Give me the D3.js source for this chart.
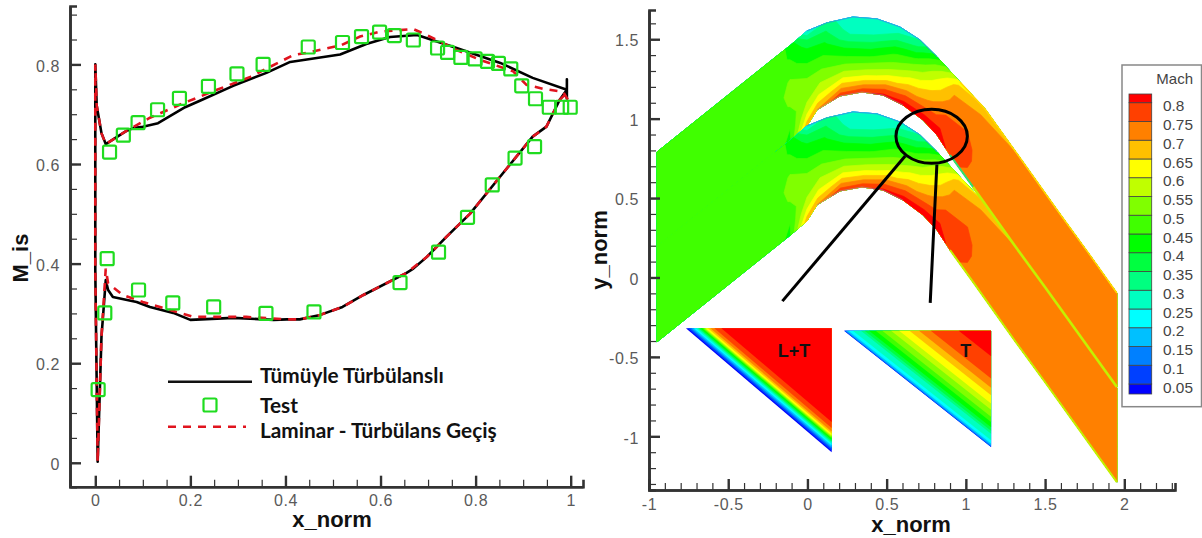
<!DOCTYPE html>
<html>
<head>
<meta charset="utf-8">
<script src="https://cdn.jsdelivr.net/npm/d3@7"></script>
<style>
  html, body { margin: 0; padding: 0; background: #fff; }
  svg { display: block; font-family: "Liberation Sans", Arial, sans-serif; }
  .tick text { fill: #5a5a5a; font-size: 16px; letter-spacing: .6px; }
  .axis path, .axis line { stroke: #333; }
  .title { font-weight: bold; font-size: 22px; fill: #111; text-anchor: middle; }
  .leg { font-family: Lato, sans-serif; font-weight: bold; font-size: 20.8px; fill: #111; }
</style>
</head>
<body>
<div id="target"></div>
<script>
// left plot: isentropic Mach along the blade
const turbX = [.992,.992,.992,.92,.852,.76,.677,.62,.57,.515,.41,.36,.29,.22,.189,.132,.1,.08,.063,.022,.013,.003,0,0,.005,.013,.022,.027,.037,.087,.115,.164,.2,.29,.375,.403,.43,.473,.52,.564,.654,.669,.697,.739,.788,.851,.92,.949,.977,.992];
const turbM = [.73,.77,.749,.773,.803,.833,.859,.855,.841,.82,.805,.783,.757,.727,.714,.682,.675,.672,.665,.64,.662,.717,.8,.387,.002,.253,.367,.347,.333,.323,.313,.301,.287,.291,.287,.288,.288,.297,.313,.337,.381,.39,.413,.454,.5,.574,.655,.675,.729,.749];
const lamX = [.994,.984,.942,.907,.879,.81,.76,.697,.669,.6,.557,.518,.444,.417,.326,.256,.185,.115,.063,.022,.013,.003,0,0,.005,.013,.022,.027,.058,.1,.171,.206,.318,.403,.43,.473,.52,.564,.654,.697,.739,.788,.851,.92,.949,.977,.994];
const lamM = [.729,.745,.751,.759,.786,.809,.829,.859,.871,.866,.856,.839,.823,.819,.775,.749,.722,.693,.665,.64,.662,.717,.8,.387,.002,.253,.39,.36,.337,.323,.303,.293,.293,.288,.288,.297,.313,.337,.381,.413,.454,.5,.574,.655,.675,.729,.745];
const testX = [.03,.059,.09,.131,.177,.238,.298,.353,.448,.52,.56,.598,.629,.669,.72,.741,.769,.799,.825,.848,.874,.897,.926,.955,.981,.999,.924,.883,.835,.783,.722,.641,.46,.359,.249,.163,.091,.025,.02,.006];
const testM = [.624,.658,.683,.709,.732,.756,.781,.8,.835,.844,.856,.865,.858,.849,.833,.824,.814,.811,.806,.802,.791,.757,.731,.714,.714,.714,.635,.612,.558,.493,.423,.362,.303,.3,.313,.321,.347,.41,.301,.147];
const leftXTicks = [0, .2, .4, .6, .8, 1];
const leftYTicks = [0, .2, .4, .6, .8];
const leftXMinor = d3.range(0, 21).map(d => d * .05);
const leftYMinor = d3.range(0, 19).map(d => d * .05);
const legendNames = ["Tümüyle Türbülanslı", "Test", "Laminar - Türbülans Geçiş"];

// right plot: blade passage walls, stations run inlet to outlet
const upperX = [-.95,-.477,-.205,-.11,-.003,.123,.287,.439,.584,.71,.818,.963,1.121,1.329,1.594,1.782,1.953];
const upperY = [.79,1.168,1.385,1.46,1.552,1.603,1.64,1.628,1.577,1.496,1.389,1.231,1.061,.771,.4,.142,-.098];
const lowerX = [-.95,-.477,-.205,-.11,-.003,.06,.205,.344,.477,.603,.729,.818,.9,1.045,1.31,1.499,1.953];
const lowerY = [.192,.57,.787,.862,.954,1.055,1.143,1.168,1.149,1.086,.992,.897,.771,.57,.198,-.06,-.69];
const pitch = .598;
// Mach per station, upper wall to lower wall
const machField = [
  [.47,.47,.47,.47,.47,.47,.47,.47,.47],
  [.47,.47,.47,.47,.47,.47,.47,.47,.47],
  [.47,.47,.47,.47,.47,.47,.47,.47,.47],
  [.44,.445,.47,.505,.52,.505,.47,.45,.44],
  [.25,.38,.42,.46,.5,.525,.55,.6,.68],
  [.32,.36,.41,.45,.49,.53,.57,.62,.7],
  [.26,.27,.31,.39,.45,.515,.585,.675,.78],
  [.26,.27,.31,.38,.44,.51,.58,.675,.79],
  [.27,.31,.38,.44,.49,.55,.62,.72,.81],
  [.3,.36,.43,.5,.56,.62,.68,.76,.83],
  [.42,.5,.56,.6,.64,.68,.72,.78,.84],
  [.62,.68,.7,.71,.73,.75,.77,.8,.84],
  [.66,.7,.72,.735,.75,.76,.77,.785,.78],
  [.7,.72,.72,.72,.72,.73,.73,.72,.7],
  [.72,.72,.72,.72,.72,.72,.72,.72,.72],
  [.72,.72,.72,.72,.72,.72,.72,.72,.72],
  [.72,.72,.72,.72,.72,.72,.72,.72,.72]
];
const machLevels = [.05,.1,.15,.2,.25,.3,.35,.4,.45,.5,.55,.6,.65,.7,.75,.8];
const machColors = ["#0040ff","#0080ff","#00c0ff","#00ffff","#00ffc0","#00ff80","#00ff40","#00ff00","#40ff00","#80ff00","#c0ff00","#ffff00","#ffc000","#ff8000","#ff4000","#ff0000"];
const belowColor = "#0000ff";
// insets: share of the triangle, from long edge to corner, where each level starts
const insetLT = [.012,.027,.04,.054,.068,.081,.089,.1,.111,.119,.127,.135,.151,.168,.195,.243];
const insetT = [.002,.005,.015,.03,.06,.115,.14,.17,.215,.26,.32,.375,.445,.51,.59,.78];
const rightXTicks = [-1, -.5, 0, .5, 1, 1.5, 2];
const rightYTicks = [-1, -.5, 0, .5, 1, 1.5];
const rightXMinor = d3.range(-10, 24).map(d => d / 10);
const rightYMinor = d3.range(-13, 17).map(d => d / 10);

const width = 1202, height = 538;

const svg = d3.select("#target").append("svg")
  .attr("width", width)
  .attr("height", height);

const xL = d3.scaleLinear().domain([-.0532, 1.0259]).range([70, 583]);
const yL = d3.scaleLinear().domain([-.048, .9173]).range([486.7, 6]);
const xR = d3.scaleLinear().domain([-1, 2.32]).range([649, 1175]);
const yR = d3.scaleLinear().domain([-1.338, 1.684]).range([490, 10]);

function drawAxes(x, y, xMajor, yMajor, xMinor, yMinor, ox, oy, xPad, yPad) {
  const minorX = d3.axisBottom(x).tickValues(xMinor).tickSize(-7).tickFormat("");
  const minorY = d3.axisLeft(y).tickValues(yMinor).tickSize(-7).tickFormat("");
  const majorX = d3.axisBottom(x).tickValues(xMajor).tickSizeInner(-11).tickSizeOuter(0).tickPadding(xPad).tickFormat(String);
  const majorY = d3.axisLeft(y).tickValues(yMajor).tickSizeInner(-11).tickSizeOuter(0).tickPadding(yPad).tickFormat(String);
  [[minorX, 0], [minorY, 1], [majorX, 0], [majorY, 1]].forEach(([ax, isY], i) => {
    const g = svg.append("g").attr("class", "axis")
      .attr("transform", isY ? `translate(${ox},0)` : `translate(0,${oy})`)
      .call(ax);
    g.selectAll("line").attr("stroke-width", i < 2 ? 1.2 : 2.4);
    g.select(".domain").attr("stroke-width", 2.6);
    if (isY) g.selectAll("text").attr("dy", "0.42em");
  });
}

// contour map
const contours = d3.contours().size([9, machField.length]).thresholds(machLevels)(machField.flat());

function stationPoint(px, py, offset) {
  const s = Math.max(0, Math.min(machField.length - 1, py - .5));
  const n = Math.max(0, Math.min(8, px - .5)) / 8;
  const i = Math.min(Math.floor(s), machField.length - 2);
  const t = s - i;
  const ux = upperX[i] + (upperX[i + 1] - upperX[i]) * t;
  const uy = upperY[i] + (upperY[i + 1] - upperY[i]) * t;
  const lx = lowerX[i] + (lowerX[i + 1] - lowerX[i]) * t;
  const ly = lowerY[i] + (lowerY[i + 1] - lowerY[i]) * t;
  return [xR(ux + (lx - ux) * n), yR(uy + (ly - uy) * n - offset)];
}

const ringLine = d3.line();
[0, pitch].forEach(offset => {
  const g = svg.append("g");
  g.selectAll("path")
    .data(contours)
    .enter()
    .append("path")
    .attr("d", c => c.coordinates.map(poly => poly.map(ring => ringLine(ring.map(p => stationPoint(p[0], p[1], offset))) + "Z").join("")).join(""))
    .attr("fill", (c, i) => machColors[i])
    .attr("stroke", (c, i) => c.coordinates.length ? machColors[i] : "none")
    .attr("stroke-width", .7)
    .attr("fill-rule", "evenodd");
});

// thin edge layers that the field grid is too coarse for
function wall(xs, ys, from, to, offset, color, w, op) {
  const pts = d3.range(from, to + 1).map(i => [xR(xs[i]), yR(ys[i] - offset)]);
  svg.append("path").attr("d", d3.line()(pts)).attr("fill", "none").attr("stroke", color)
    .attr("stroke-width", w).attr("stroke-opacity", op === undefined ? 1 : op);
}
wall(lowerX, lowerY, 0, 2, 0, "#40ff00", 2);
[0, pitch].forEach(o => {
  wall(upperX, upperY, 4, 10, o, "#3f80e8", 1, .7);
  wall(lowerX, lowerY, 5, 9, o, "#6fa8e8", .7, .6);
});
wall(upperX, upperY, 11, 16, 0, "#ffd800", 1.5);
wall(lowerX, lowerY, 12, 13, 0, "#30e070", 2);
wall(lowerX, lowerY, 13, 16, 0, "#c4f000", 2.6);
wall(lowerX, lowerY, 12, 16, pitch, "#c4f000", 2);

// insets
function drawInset(shares, x0, x1, y0, y1) {
  const tri = (f) => [[xR(x0 + (x1 - x0) * f), yR(y1)], [xR(x1), yR(y1)], [xR(x1), yR(y0 + (y1 - y0) * f)]];
  const g = svg.append("g");
  g.append("path").attr("d", d3.line()(tri(0)) + "Z").attr("fill", belowColor);
  shares.forEach((f, i) => {
    g.append("path").attr("d", d3.line()(tri(f)) + "Z").attr("fill", machColors[i]);
  });
}
drawInset(insetLT, -.767, .153, -1.1, -.32);
drawInset(insetT, .231, 1.159, -1.068, -.335);

svg.append("text").attr("x", xR(-.085)).attr("y", yR(-.5)).attr("text-anchor", "middle")
  .attr("font-weight", "bold").attr("font-size", 18).attr("fill", "#111").text("L+T");
svg.append("text").attr("x", xR(1.0)).attr("y", yR(-.5)).attr("text-anchor", "middle")
  .attr("font-weight", "bold").attr("font-size", 18).attr("fill", "#111").text("T");

// ellipse and pointers
svg.append("ellipse")
  .attr("cx", xR(.784)).attr("cy", yR(.889))
  .attr("rx", xR(.784 + .2254) - xR(.784)).attr("ry", yR(.889 - .17) - yR(.889))
  .attr("fill", "none").attr("stroke", "#000").attr("stroke-width", 3);
const pointerA = [[.617, .765], [-.158, -.149]];
const pointerB = [[.817, .711], [.792, .195], [.775, -.16]];
[pointerA, pointerB].forEach(pts => {
  svg.append("path").attr("d", d3.line().x(d => xR(d[0])).y(d => yR(d[1]))(pts))
    .attr("fill", "none").attr("stroke", "#000").attr("stroke-width", 3);
});

drawAxes(xL, yL, leftXTicks, leftYTicks, leftXMinor, leftYMinor, 70, 486.7, 7.5, 10);
drawAxes(xR, yR, rightXTicks, rightYTicks, rightXMinor, rightYMinor, 649, 490, 9, 10);

// left curves
const lineL = d3.line().x(d => xL(d[0])).y(d => yL(d[1]));
svg.append("path").attr("d", lineL(d3.zip(turbX, turbM)))
  .attr("fill", "none").attr("stroke", "#000").attr("stroke-width", 2.6).attr("stroke-linejoin", "round");
svg.append("path").attr("d", lineL(d3.zip(lamX, lamM)))
  .attr("fill", "none").attr("stroke", "#e0141e").attr("stroke-width", 2.6).attr("stroke-dasharray", "8 7");

function square(cx, cy) {
  svg.append("rect").attr("x", cx - 6.5).attr("y", cy - 6.5).attr("width", 13).attr("height", 13).attr("rx", 1.5)
    .attr("fill", "none").attr("stroke", "#1fdc1f").attr("stroke-width", 2.2);
}
d3.zip(testX, testM).forEach(d => square(xL(d[0]), yL(d[1])));

// legend of the left plot
svg.append("line").attr("x1", 168).attr("x2", 252).attr("y1", 381.7).attr("y2", 381.7).attr("stroke", "#111").attr("stroke-width", 2.6);
square(210, 405);
svg.append("line").attr("x1", 168).attr("x2", 246).attr("y1", 426.7).attr("y2", 426.7).attr("stroke", "#e0141e").attr("stroke-width", 2.6).attr("stroke-dasharray", "8 7");
[383, 412.7, 438].forEach((y, i) => {
  svg.append("text").attr("class", "leg").attr("x", 260).attr("y", y).text(legendNames[i]);
});

// axis titles
svg.append("text").attr("class", "title").attr("x", 332).attr("y", 526.7).text("x_norm");
svg.append("text").attr("class", "title").attr("x", 911).attr("y", 531.7).text("x_norm");
svg.append("text").attr("class", "title").attr("transform", "translate(28,258) rotate(-90)").text("M_is");
svg.append("text").attr("class", "title").attr("transform", "translate(607,250) rotate(-90)").text("y_norm");

// colour legend
svg.append("rect").attr("x", 1122).attr("y", 65).attr("width", 79.5).attr("height", 341.7)
  .attr("fill", "#fff").attr("stroke", "#888").attr("stroke-width", 1.5);
svg.append("text").attr("x", 1193).attr("y", 84).attr("text-anchor", "end").attr("font-size", 15).attr("fill", "#444").text("Mach");
const yLegend = d3.scaleLinear().domain([.8, .05]).range([102.7, 384]);
const legendTop = .8 + (102.7 - 94) / 375.07;
const legendBottom = .05 - (394 - 384) / 375.07;
const legendStops = [legendBottom].concat(machLevels, [legendTop]);
const legendColors = [belowColor].concat(machColors);
legendColors.forEach((c, i) => {
  svg.append("rect").attr("x", 1129).attr("width", 22.7)
    .attr("y", yLegend(legendStops[i + 1])).attr("height", yLegend(legendStops[i]) - yLegend(legendStops[i + 1]))
    .attr("fill", c).attr("stroke", "#444").attr("stroke-width", .8);
});
machLevels.forEach(v => {
  svg.append("text").attr("x", 1163).attr("y", yLegend(v) + 3).attr("dy", ".36em")
    .attr("font-size", 15.4).attr("fill", "#444").text(String(v));
});
</script>
</body>
</html>
